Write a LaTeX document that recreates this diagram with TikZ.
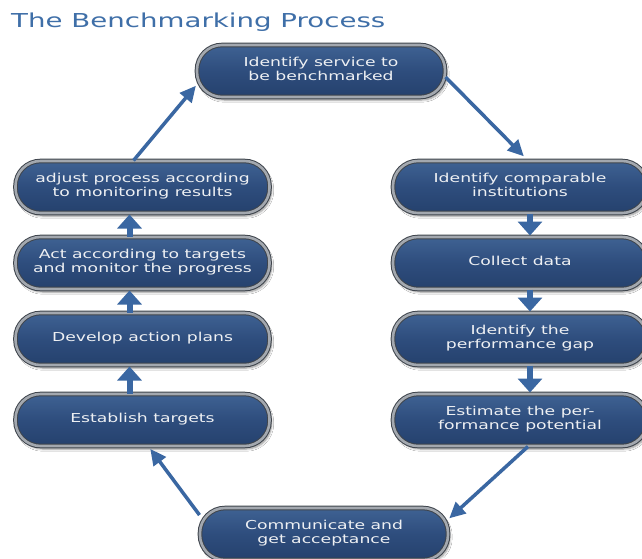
\documentclass[tikz,border=0pt]{standalone}
\usepackage{graphicx}
\usepackage{fontspec}
\setmainfont{DejaVu Sans}
\usetikzlibrary{arrows.meta,shadows.blur}
\definecolor{boxtop}{HTML}{3F6293}
\definecolor{boxmid}{HTML}{2E4D7D}
\definecolor{boxbot}{HTML}{25416D}
\definecolor{pillrim}{HTML}{3E444C}
\definecolor{pillring}{HTML}{A3A8AF}
\definecolor{arrowblue}{HTML}{3A67A2}
\definecolor{titleblue}{HTML}{3F6FA8}
\definecolor{txtwhite}{HTML}{EEF0F3}
\newcommand{\boxtxt}[1]{\scalebox{1.4}[1]{\begin{tabular}{@{}c@{}}#1\end{tabular}}}
\begin{document}
\begin{tikzpicture}[x=1pt,y=-1pt,
  pill/.style={rectangle, rounded corners=25pt, minimum width=254pt, minimum height=52pt,
    draw=pillrim, double=pillring, double distance=2.6pt, line width=1pt,
    top color=boxtop, bottom color=boxbot, middle color=boxmid,
    text=txtwhite, font=\fontsize{12.3}{13.4}\selectfont, inner sep=0pt,
    blur shadow={shadow xshift=2pt, shadow yshift=-3pt, shadow blur steps=6, shadow opacity=45}},
  narrow/.style={minimum width=248pt},
  longarrow/.style={draw=arrowblue, line width=3.5pt, -{Triangle[length=16pt,width=15pt]}},
  shortarrow/.style={draw=arrowblue, line width=6pt, -{Triangle[length=14pt,width=24pt]}}
]
\useasboundingbox (0,0) rectangle (642,558);
\fill[white] (0,0) rectangle (642,558);

\node[anchor=base west, inner sep=0pt, text=titleblue, font=\fontsize{19.2}{22}\selectfont]
  (title) at (11,27) {\scalebox{1.44}[1]{The Benchmarking Process}};

\node[pill, narrow] (top) at (321,71) {\boxtxt{Identify service to\\be benchmarked}};

\node[pill] (adj)  at (142.5,187) {\boxtxt{adjust process according\\to monitoring results}};
\node[pill] (act)  at (142.5,263) {\boxtxt{Act according to targets\\and monitor the progress}};
\node[pill] (dev)  at (142.5,339) {\boxtxt{Develop action plans}};
\node[pill] (estl) at (142.5,420) {\boxtxt{Establish targets}};

\node[pill] (idc)  at (520,187) {\boxtxt{Identify comparable\\institutions}};
\node[pill] (col)  at (520,263) {\boxtxt{Collect data}};
\node[pill] (gap)  at (520,339) {\boxtxt{Identify the\\performance gap}};
\node[pill] (estr) at (520,420) {\boxtxt{Estimate the per-\\formance potential}};

\node[pill, narrow] (bot) at (324,534) {\boxtxt{Communicate and\\get acceptance}};

% long arrows
\draw[longarrow, shorten >=1pt] ([xshift=-9pt]adj.north) -- ([yshift=-14pt]top.west);
\draw[longarrow, shorten >=6pt] ([yshift=-6pt]top.east) -- ([xshift=8pt]idc.north);
\draw[longarrow, shorten >=1pt] ([xshift=8pt]estr.south) -- ([yshift=15pt]bot.east);
\draw[longarrow, shorten >=3pt] ([yshift=19pt]bot.west) -- ([xshift=6pt]estl.south);

% short arrows left (upwards)
\draw[shortarrow, shorten >=1pt] ([xshift=-13pt]act.north) -- ([xshift=-13pt]adj.south);
\draw[shortarrow, shorten >=1pt] ([xshift=-13pt]dev.north) -- ([xshift=-13pt]act.south);
\draw[shortarrow, shorten >=1pt] ([xshift=-13pt]estl.north) -- ([xshift=-13pt]dev.south);

% short arrows right (downwards)
\draw[shortarrow, shorten >=1pt] ([xshift=10pt]idc.south) -- ([xshift=10pt]col.north);
\draw[shortarrow, shorten >=1pt] ([xshift=10pt]col.south) -- ([xshift=10pt]gap.north);
\draw[shortarrow, shorten >=1pt] ([xshift=10pt]gap.south) -- ([xshift=10pt]estr.north);
\end{tikzpicture}
\end{document}
